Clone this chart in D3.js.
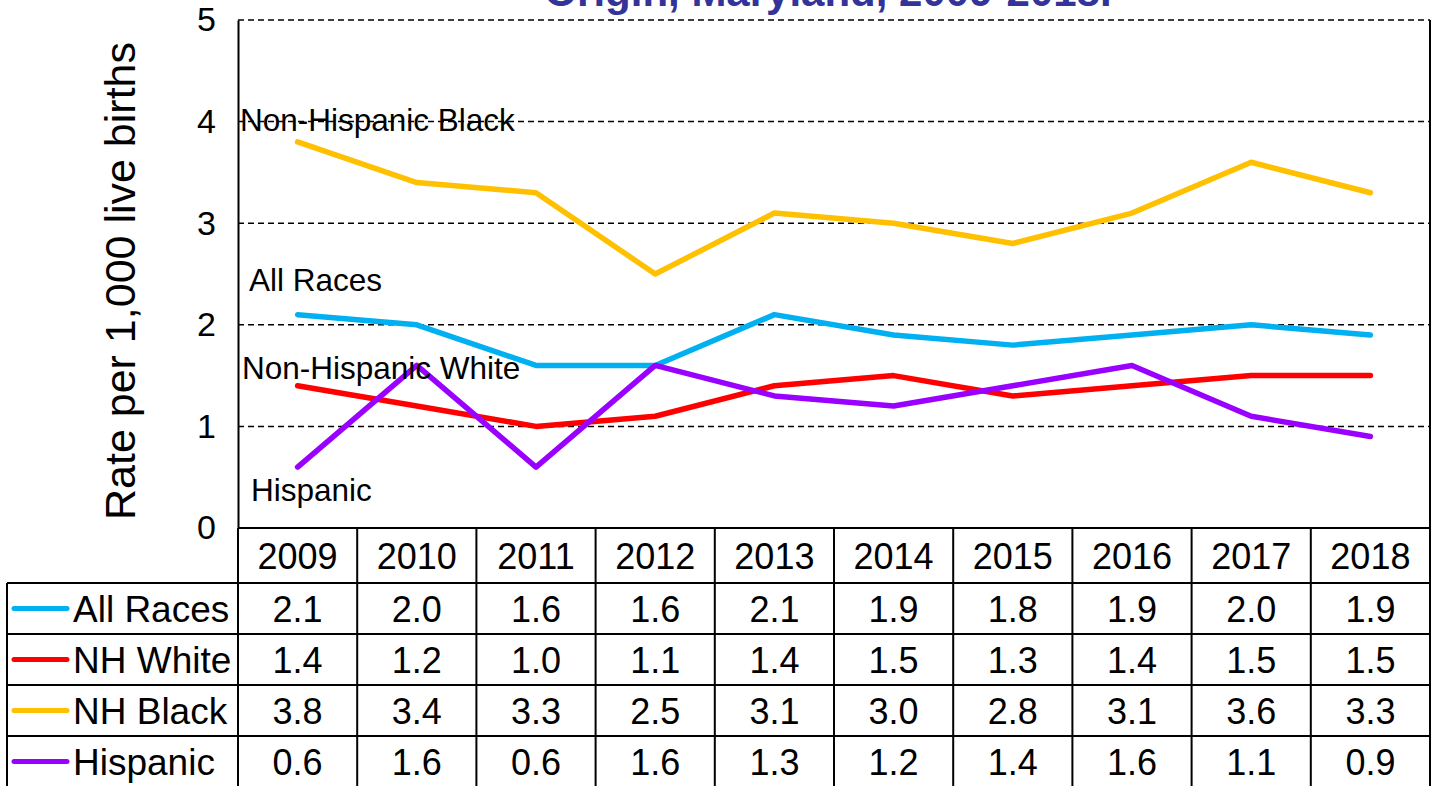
<!DOCTYPE html>
<html><head><meta charset="utf-8">
<script src="https://cdn.jsdelivr.net/npm/d3@7"></script>
<style>body{margin:0;background:#fff}svg{display:block;font-family:Arial,"Liberation Sans",sans-serif}</style>
</head><body><svg id="c" width="1437" height="786"></svg>
<script>
const years = ["2009","2010","2011","2012","2013","2014","2015","2016","2017","2018"];
const seriesNames = ["All Races","NH White","NH Black","Hispanic"];
const allRaces = [2.1,2.0,1.6,1.6,2.1,1.9,1.8,1.9,2.0,1.9];
const nhWhite  = [1.4,1.2,1.0,1.1,1.4,1.5,1.3,1.4,1.5,1.5];
const nhBlack  = [3.8,3.4,3.3,2.5,3.1,3.0,2.8,3.1,3.6,3.3];
const hispanic = [0.6,1.6,0.6,1.6,1.3,1.2,1.4,1.6,1.1,0.9];
const yTicks = [0,1,2,3,4,5];
const lineLabels = ["Non-Hispanic Black","All Races","Non-Hispanic White","Hispanic"];
const title = "Origin, Maryland, 2009-2018.";
const yTitle = "Rate per 1,000 live births";

const colors = ["#00B0F0","#FF0000","#FFC000","#9900FF"];
const series = [allRaces,nhWhite,nhBlack,hispanic];

const svg = d3.select("#c");
const L=238, R=1430, T=20, B=528;
const x = d3.scaleBand().domain(years).range([L,R]);
const y = d3.scaleLinear().domain([0,5]).range([B,T]);

// title (cut off at the top edge, as in the reference)
svg.append("text").attr("x",828).attr("y",6).attr("text-anchor","middle")
  .attr("font-size",42).attr("font-weight","bold").attr("fill","#333399").text(title);

// gridlines
svg.append("g").selectAll("line").data(yTicks.filter(d=>d>0)).join("line")
  .attr("x1",L).attr("x2",R).attr("y1",d=>y(d)).attr("y2",d=>y(d))
  .attr("stroke","#000").attr("stroke-width",1.5).attr("stroke-dasharray","6,4");

// y axis
const yAxis = d3.axisLeft(y).tickValues(yTicks).tickSize(0).tickPadding(22).tickFormat(d3.format("d"));
const ga = svg.append("g").attr("transform",`translate(${L},0)`).call(yAxis);
ga.select(".domain").attr("stroke","#000").attr("stroke-width",2);
ga.selectAll("text").attr("font-size",34).attr("fill","#000").attr("font-family","Arial,'Liberation Sans',sans-serif");

// right border
svg.append("line").attr("x1",R).attr("x2",R).attr("y1",T).attr("y2",786).attr("stroke","#000").attr("stroke-width",2);

// y title
svg.append("text").attr("transform","translate(135,281) rotate(-90)").attr("text-anchor","middle")
  .attr("font-size",43).attr("fill","#000").text(yTitle);

// lines
const line = d3.line().x((d,i)=>x(years[i])+x.bandwidth()/2).y(d=>y(d));
series.forEach((s,k)=>{
  svg.append("path").datum(s).attr("d",line).attr("fill","none")
    .attr("stroke",colors[k]).attr("stroke-width",5.5).attr("stroke-linejoin","round").attr("stroke-linecap","round");
});

// line labels
const labelPos = [[240,131],[249,291],[242,379],[251,501]];
lineLabels.forEach((t,i)=>{
  svg.append("text").attr("x",labelPos[i][0]).attr("y",labelPos[i][1]).attr("font-size",31.5).attr("fill","#000").text(t);
});

// table
const rowTop = [528,583,634,685,736,787];
const tb = svg.append("g");
const hl = (x1,x2,yy)=>tb.append("line").attr("x1",x1).attr("x2",x2).attr("y1",yy).attr("y2",yy).attr("stroke","#000").attr("stroke-width",2);
const vl = (xx,y1,y2)=>tb.append("line").attr("x1",xx).attr("x2",xx).attr("y1",y1).attr("y2",y2).attr("stroke","#000").attr("stroke-width",2);
hl(L,R,rowTop[0]);
for(let r=1;r<5;r++) hl(7,R,rowTop[r]);
vl(7,rowTop[1],786);
years.forEach(yr=>vl(x(yr),rowTop[0],786));

years.forEach(yr=>{
  tb.append("text").attr("x",x(yr)+x.bandwidth()/2).attr("y",(rowTop[0]+rowTop[1])/2+13)
    .attr("text-anchor","middle").attr("font-size",36).attr("fill","#000").text(yr);
});
series.forEach((s,k)=>{
  const cy=(rowTop[k+1]+rowTop[k+2])/2;
  tb.append("line").attr("x1",14).attr("x2",67).attr("y1",cy).attr("y2",cy)
    .attr("stroke",colors[k]).attr("stroke-width",5).attr("stroke-linecap","round");
  tb.append("text").attr("x",73).attr("y",cy+13).attr("font-size",37).attr("fill","#000").text(seriesNames[k]);
  s.forEach((v,i)=>{
    tb.append("text").attr("x",x(years[i])+x.bandwidth()/2).attr("y",cy+13)
      .attr("text-anchor","middle").attr("font-size",36).attr("fill","#000").text(d3.format(".1f")(v));
  });
});
</script></body></html>
